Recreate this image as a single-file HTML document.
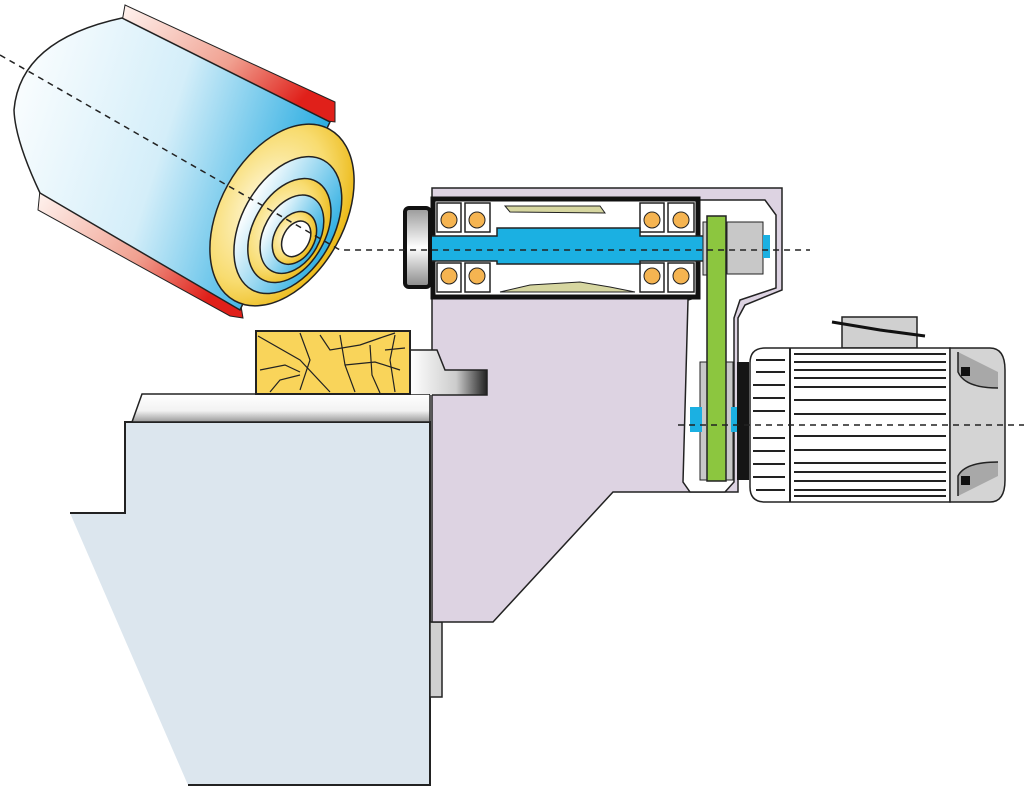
<!DOCTYPE html>
<html><head><meta charset="utf-8"><style>html,body{margin:0;padding:0;background:#fff}svg{display:block}</style></head>
<body>
<svg width="1024" height="789" viewBox="0 0 1024 789" xmlns="http://www.w3.org/2000/svg">
<defs>
<linearGradient id="cyl" x1="0" y1="0" x2="1" y2="0.3">
<stop offset="0" stop-color="#ffffff"/><stop offset="0.55" stop-color="#d4eef9"/><stop offset="1" stop-color="#2eaee2"/></linearGradient>
<linearGradient id="red" x1="0" y1="0" x2="1" y2="0.5">
<stop offset="0" stop-color="#fff4f0"/><stop offset="0.6" stop-color="#f0a090"/><stop offset="1" stop-color="#e0201a"/></linearGradient>
<radialGradient id="yel" cx="0.35" cy="0.5" r="0.7">
<stop offset="0" stop-color="#fffbe8"/><stop offset="0.6" stop-color="#f8dc70"/><stop offset="1" stop-color="#e8b000"/></radialGradient>
<linearGradient id="blu" x1="0" y1="0" x2="1" y2="0"><stop offset="0" stop-color="#fff"/><stop offset="1" stop-color="#2eaee2"/></linearGradient>
<linearGradient id="plate" x1="0" y1="0" x2="0" y2="1"><stop offset="0" stop-color="#fff"/><stop offset="0.6" stop-color="#f2f2f2"/><stop offset="1" stop-color="#999"/></linearGradient>
<linearGradient id="bar" x1="0" y1="0" x2="1" y2="0"><stop offset="0" stop-color="#fff"/><stop offset="0.6" stop-color="#ccc"/><stop offset="1" stop-color="#222"/></linearGradient>
<linearGradient id="disc" x1="0" y1="0" x2="0" y2="1"><stop offset="0" stop-color="#999"/><stop offset="0.5" stop-color="#fff"/><stop offset="1" stop-color="#888"/></linearGradient>
</defs>

<!-- left base block -->
<path d="M125,422 L430,422 L430,785 L188,785 L70,513 L125,513 Z" fill="#dce6ee"/>
<path d="M70,513 L125,513 L125,422 L430,422 L430,785 L188,785" fill="none" stroke="#222" stroke-width="2"/>
<!-- plate -->
<path d="M142,394 L430,394 L430,422 L132,422 Z" fill="url(#plate)" stroke="#222" stroke-width="1.5"/>
<!-- gray strip -->
<rect x="430" y="622" width="12" height="75" fill="#cfcfcf" stroke="#222" stroke-width="1.5"/>

<!-- purple housing -->
<path d="M432,188 L782,188 L782,290 L745,305 L738,318 L738,492 L613,492 L493,622 L432,622 Z" fill="#ddd3e2" stroke="#222" stroke-width="1.5"/>
<!-- belt cavity -->
<path d="M698,200 L765,200 L776,215 L776,288 L740,300 L734,318 L734,482 L725,492 L690,492 L683,482 L688,300 L698,297 Z" fill="#fff" stroke="#222" stroke-width="1.5"/>
<!-- tool rest -->
<path d="M410,350 L437,350 L445,370 L487,370 L487,395 L430,395 L430,394 L410,394 Z" fill="url(#bar)"/>
<path d="M410,350 L437,350 L445,370 L487,370 L487,395 L432,395" fill="none" stroke="#222" stroke-width="1.5"/>

<!-- workpiece -->
<rect x="256" y="331" width="154" height="63" fill="#f9d45a" stroke="#222" stroke-width="2"/>
<g fill="none" stroke="#222" stroke-width="1.2">
<path d="M258,336 L300,360 L330,392"/><path d="M300,333 L310,360 L300,390"/><path d="M320,335 L330,350 L360,345 L380,338 L395,333"/>
<path d="M340,335 L345,365 L355,392"/><path d="M370,345 L372,375 L380,393"/><path d="M260,370 L285,365 L300,372"/>
<path d="M385,350 L405,348"/><path d="M345,365 L375,362 L400,370"/><path d="M270,392 L280,380 L300,375"/><path d="M395,335 L390,360 L395,392"/>
</g>

<!-- bearing box -->
<rect x="433" y="199" width="265" height="98" fill="#fff" stroke="#111" stroke-width="5"/>
<path d="M505,206 L600,206 L605,213 L510,212 Z" fill="#d6d6a0" stroke="#222"/>
<path d="M500,292 L530,285 L580,282 L610,287 L635,292 Z" fill="#d6d6a0" stroke="#222"/>
<g stroke="#222" stroke-width="1.5">
<rect x="437" y="203" width="24" height="29" fill="#fff"/><rect x="465" y="203" width="25" height="29" fill="#fff"/>
<rect x="640" y="203" width="24" height="29" fill="#fff"/><rect x="668" y="203" width="26" height="29" fill="#fff"/>
<rect x="437" y="263" width="24" height="29" fill="#fff"/><rect x="465" y="263" width="25" height="29" fill="#fff"/>
<rect x="640" y="263" width="24" height="29" fill="#fff"/><rect x="668" y="263" width="26" height="29" fill="#fff"/>
</g>
<g fill="#f5b451" stroke="#222" stroke-width="1">
<circle cx="449" cy="220" r="8"/><circle cx="477" cy="220" r="8"/><circle cx="652" cy="220" r="8"/><circle cx="681" cy="220" r="8"/>
<circle cx="449" cy="276" r="8"/><circle cx="477" cy="276" r="8"/><circle cx="652" cy="276" r="8"/><circle cx="681" cy="276" r="8"/>
</g>
<!-- shaft -->
<path d="M430,236 L497,236 L497,228 L640,228 L640,236 L705,236 L705,261 L640,261 L640,264 L497,264 L497,261 L430,261 Z" fill="#1bb0e2" stroke="#222" stroke-width="1.5"/>
<!-- left disc -->
<rect x="405" y="208" width="25" height="79" rx="4" fill="url(#disc)" stroke="#111" stroke-width="4"/>

<!-- upper pulley -->
<rect x="703" y="222" width="6" height="53" fill="#ccc" stroke="#222"/>
<rect x="727" y="222" width="36" height="52" fill="#c8c8c8" stroke="#222"/>
<rect x="763" y="235" width="7" height="23" fill="#1bb0e2"/>
<!-- lower pulley -->
<rect x="700" y="362" width="33" height="118" fill="#c8c8c8" stroke="#222"/>
<rect x="690" y="407" width="12" height="25" fill="#1bb0e2"/><rect x="731" y="407" width="9" height="25" fill="#1bb0e2"/>
<!-- belt -->
<rect x="707" y="216" width="19" height="265" fill="#8cc63f" stroke="#222" stroke-width="1.5"/>

<!-- motor -->
<rect x="737" y="362" width="12" height="118" fill="#151515"/>
<rect x="842" y="317" width="75" height="31" fill="#d0d0d0" stroke="#222" stroke-width="1.5"/>
<path d="M832,322 L880,330 L925,336" stroke="#111" stroke-width="3" fill="none"/>
<path d="M765,348 L950,348 L950,502 L765,502 Q750,502 750,487 L750,363 Q750,348 765,348 Z" fill="#fff" stroke="#222" stroke-width="1.5"/>
<path d="M950,348 L990,348 Q1005,348 1005,370 L1005,480 Q1005,502 990,502 L950,502 Z" fill="#d4d4d4" stroke="#222" stroke-width="1.5"/>
<line x1="790" y1="348" x2="790" y2="502" stroke="#222" stroke-width="2"/>
<g stroke="#222" stroke-width="2">
<line x1="756" y1="360" x2="785" y2="360"/><line x1="756" y1="372" x2="785" y2="372"/><line x1="753" y1="385" x2="785" y2="385"/><line x1="753" y1="398" x2="785" y2="398"/><line x1="753" y1="411" x2="785" y2="411"/><line x1="753" y1="438" x2="785" y2="438"/><line x1="753" y1="451" x2="785" y2="451"/><line x1="753" y1="464" x2="785" y2="464"/><line x1="753" y1="477" x2="785" y2="477"/><line x1="756" y1="490" x2="785" y2="490"/>
<line x1="794" y1="354" x2="946" y2="354"/><line x1="794" y1="362" x2="946" y2="362"/><line x1="794" y1="370" x2="946" y2="370"/><line x1="794" y1="378" x2="946" y2="378"/><line x1="794" y1="387" x2="946" y2="387"/><line x1="794" y1="400" x2="946" y2="400"/><line x1="794" y1="414" x2="946" y2="414"/><line x1="794" y1="436" x2="946" y2="436"/><line x1="794" y1="450" x2="946" y2="450"/><line x1="794" y1="463" x2="946" y2="463"/><line x1="794" y1="472" x2="946" y2="472"/><line x1="794" y1="481" x2="946" y2="481"/><line x1="794" y1="490" x2="946" y2="490"/><line x1="794" y1="496" x2="946" y2="496"/>
</g>
<path d="M958,352 L958,372 Q965,388 998,388 L998,372 Z" fill="#a8a8a8"/>
<path d="M958,352 L958,372 Q965,388 998,388" fill="none" stroke="#222" stroke-width="1.5"/>
<rect x="961" y="367" width="9" height="9" fill="#111"/>
<path d="M958,496 L958,476 Q965,462 998,462 L998,476 Z" fill="#a8a8a8"/>
<path d="M958,496 L958,476 Q965,462 998,462" fill="none" stroke="#222" stroke-width="1.5"/>
<rect x="961" y="476" width="9" height="9" fill="#111"/>

<!-- grinding wheel -->
<path d="M125,5 L335,102 L335,122 L318,120 L122,22 Z" fill="url(#red)" stroke="#222" stroke-width="1"/>
<path d="M40,190 L240,300 L243,318 L230,316 L38,210 Z" fill="url(#red)" stroke="#222" stroke-width="1"/>
<path d="M122,18 L330,122 L240,310 L40,193 Q15,140 14,110 Q20,40 122,18 Z" fill="url(#cyl)" stroke="#222" stroke-width="1.5"/>
<g transform="translate(282,215) rotate(29)">
<ellipse cx="0" cy="0" rx="62" ry="98" fill="url(#yel)" stroke="#222" stroke-width="1.5"/>
<ellipse cx="10" cy="6" rx="46" ry="74" fill="url(#blu)" stroke="#222" stroke-width="1.5"/>
<ellipse cx="14" cy="10" rx="36" ry="56" fill="url(#yel)" stroke="#222" stroke-width="1.5"/>
<ellipse cx="18" cy="12" rx="28" ry="42" fill="url(#blu)" stroke="#222" stroke-width="1.5"/>
<ellipse cx="22" cy="14" rx="20" ry="28" fill="url(#yel)" stroke="#222" stroke-width="1.5"/>
<ellipse cx="24" cy="14" rx="13" ry="19" fill="#fff" stroke="#222" stroke-width="1.5"/>
</g>

<!-- axes -->
<g stroke="#222" stroke-width="1.5" stroke-dasharray="6,5" fill="none">
<path d="M0,55 L340,250 L810,250"/>
<path d="M678,425 L1024,425"/>
</g>
</svg>
</body></html>
